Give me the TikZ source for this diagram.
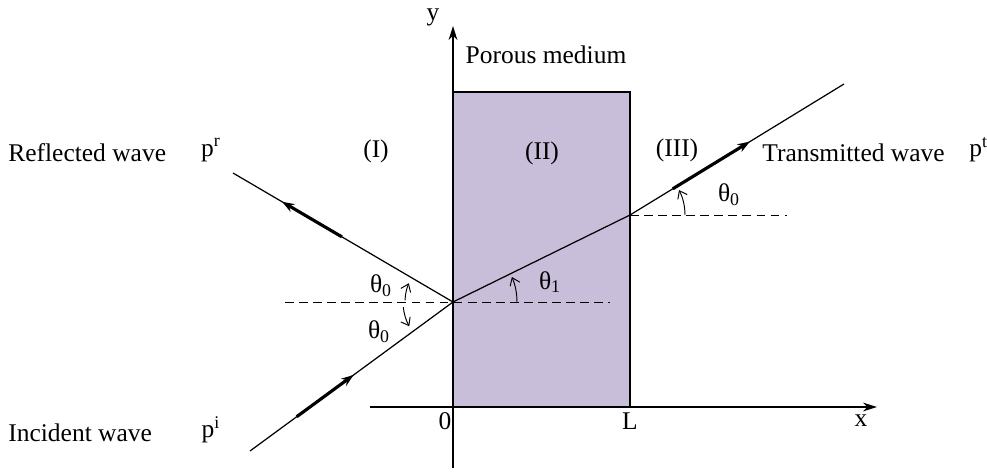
\documentclass[tikz,border=0pt]{standalone}
\usepackage{fontspec}
\setmainfont{Liberation Serif}
\usetikzlibrary{arrows.meta,calc}
\definecolor{porous}{RGB}{201,190,217}

\tikzset{
  lbl/.style={font=\fontsize{14.5}{17}\selectfont, inner sep=0pt},
  ray/.style={line width=0.7pt},
  wavearr/.style={line width=1.8pt, -{Stealth[length=7pt,width=5pt]}},
  anglearr/.style={line width=0.55pt, -{Straight Barb[length=4pt,width=6pt]}},
  axis/.style={line width=1.1pt}
}

\begin{document}
\begin{tikzpicture}[x=0.02cm, y=0.02cm]
  \useasboundingbox (0,0) rectangle (987,471);
  % points
  \coordinate (O) at (453,169);
  \coordinate (T) at (630,256);
  \coordinate (inc) at (250,20);
  \coordinate (refl) at (233,298);
  \coordinate (trans) at (844,387);
  % porous medium
  \fill[porous] (453,64) rectangle (630,379);
  \draw[line width=0.7pt] (453,379) -- (630,379) -- (630,64);
  % axes
  \coordinate (xs) at (370,64);
  \coordinate (xe) at (877,64);
  \coordinate (ys) at (453,3);
  \coordinate (ye) at (453,445);
  \draw[axis, -{Stealth[length=8pt,width=5pt]}] (xs) -- (xe);
  \draw[axis, -{Stealth[length=8pt,width=5pt]}] (ys) -- (ye);
  % normals
  \draw[line width=0.5pt, dash pattern=on 5pt off 3pt] (285,169) -- (610,169);
  \draw[line width=0.5pt, dash pattern=on 5pt off 3pt] (T) -- (787,256);
  % rays
  \draw[ray] (inc) -- (O);
  \draw[ray] (O) -- (refl);
  \draw[ray] (O) -- (T) -- (trans);
  \draw[wavearr] ($(inc)!0.23!(O)$) -- ($(inc)!0.51!(O)$);
  \draw[wavearr] ($(O)!0.505!(refl)$) -- ($(O)!0.777!(refl)$);
  \draw[wavearr] ($(T)!0.20!(trans)$) -- ($(T)!0.56!(trans)$);
  % angles
  \draw[anglearr] ([shift={(178:48)}]O) arc[start angle=178, end angle=157, radius=48];
  \draw[anglearr] ([shift={(186:50)}]O) arc[start angle=186, end angle=209, radius=50];
  \draw[anglearr] ([shift={(0:64)}]O) arc[start angle=0, end angle=23, radius=64];
  \draw[anglearr] ([shift={(0:55)}]T) arc[start angle=0, end angle=27, radius=55];
  % labels
  \node[lbl] (ylab) at (433,454) {y};
  \node[lbl] (xlab) at (861,50) {x};
  \node[lbl] (zero) at (445,50) {0};
  \node[lbl] (Llab) at (630,50) {L};
  \node[lbl] (medium) at (546,416) {Porous medium};
  \node[lbl] (regI) at (376,320) {(I)};
  \node[lbl] (regII) at (542,318) {(II)};
  \node[lbl] (regIII) at (677,321) {(III)};
  \node[lbl, anchor=west] (refltxt) at (8,318) {Reflected wave};
  \node[lbl] (pr) at (211,321) {p\textsuperscript{r}};
  \node[lbl, anchor=west] (inctxt) at (8,38) {Incident wave};
  \node[lbl] (pi) at (211,41) {p\textsuperscript{i}};
  \node[lbl, anchor=west] (transtxt) at (762,318) {Transmitted wave};
  \node[lbl, anchor=west] (pt) at (969,321) {p\textsuperscript{t}};
  \node[lbl] (thA) at (381,185) {θ\textsubscript{0}};
  \node[lbl] (thB) at (379,139) {θ\textsubscript{0}};
  \node[lbl] (thC) at (550,189) {θ\textsubscript{1}};
  \node[lbl] (thD) at (729,276) {θ\textsubscript{0}};
\end{tikzpicture}
\end{document}
